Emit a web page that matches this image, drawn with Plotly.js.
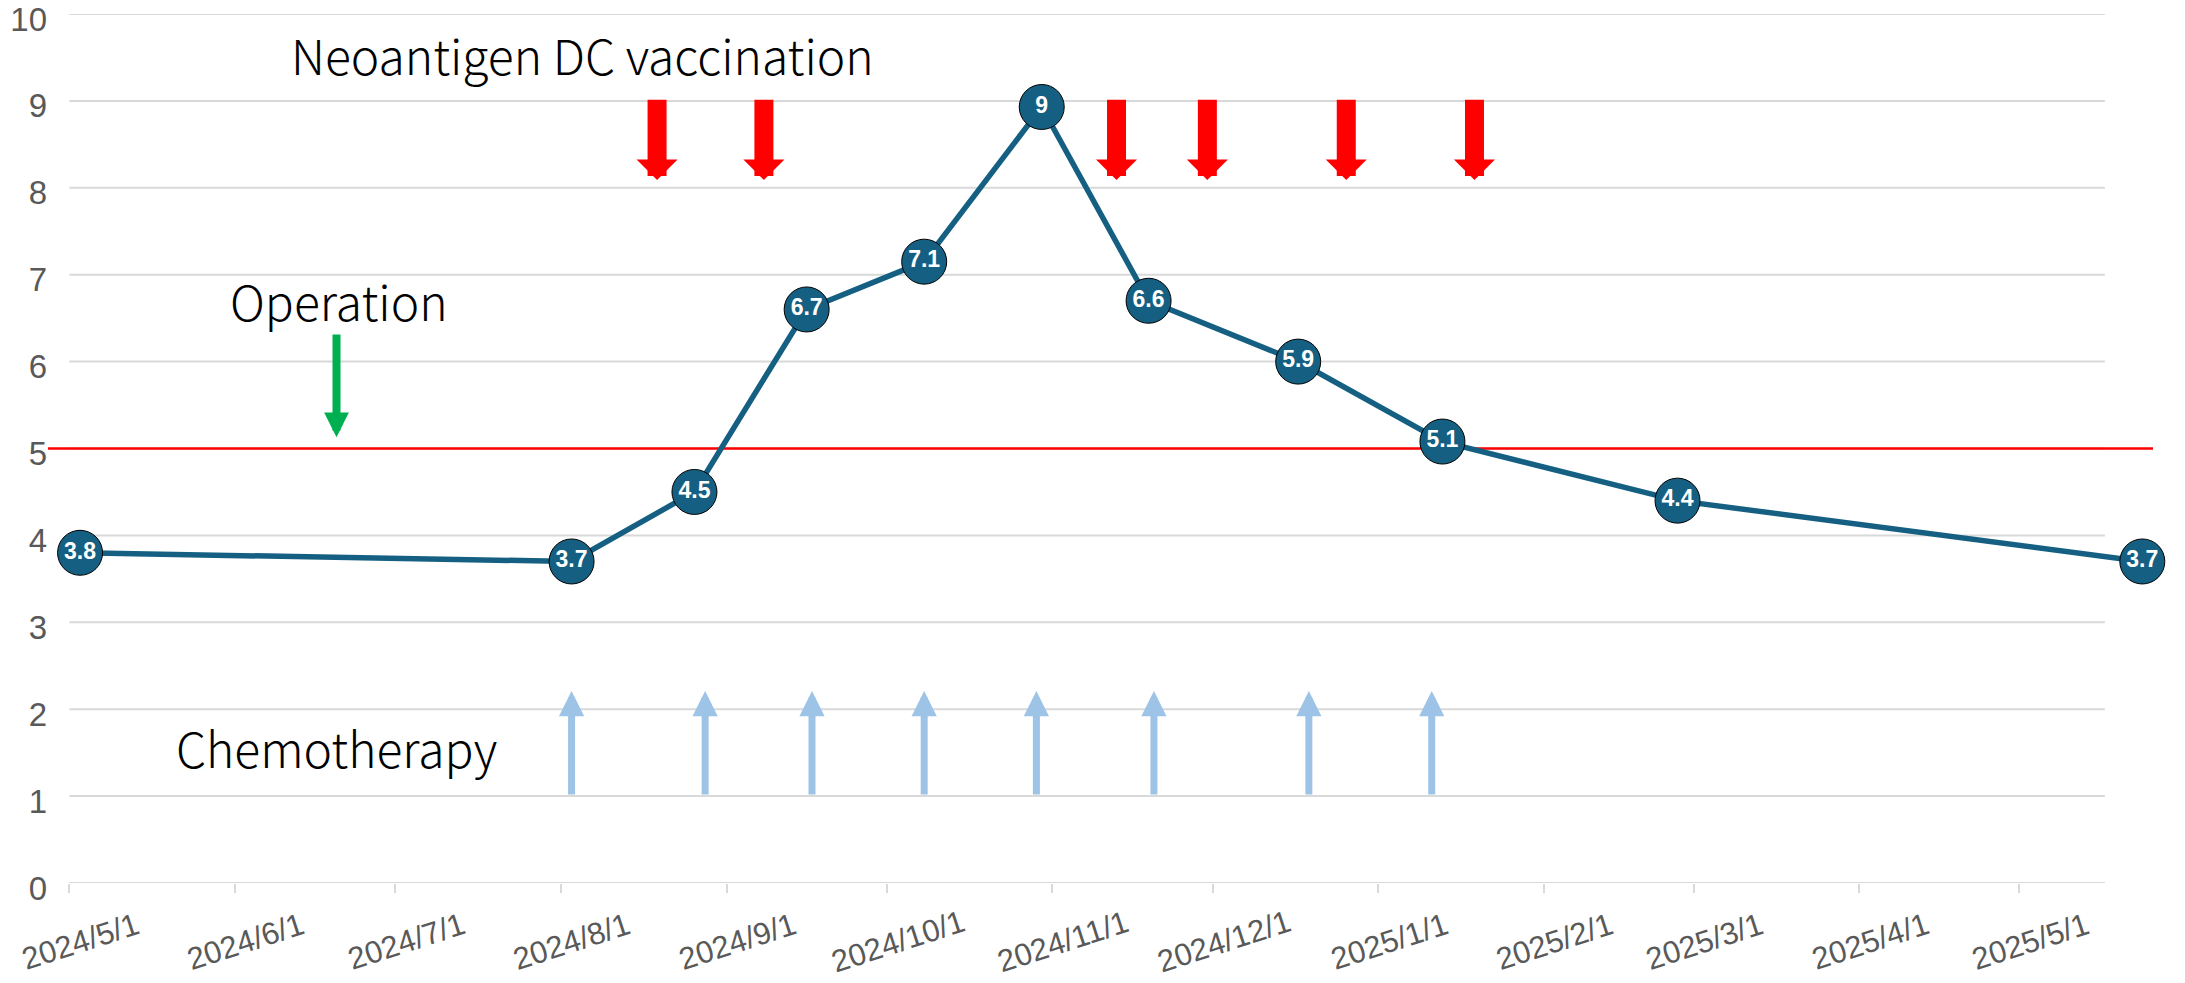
<!DOCTYPE html>
<html>
<head>
<meta charset="utf-8">
<script src="https://cdn.plot.ly/plotly-3.0.1.min.js"></script>
<style>
  html, body { margin: 0; padding: 0; background: #fff; }
  #chart { width: 2185px; height: 983px; }
</style>
</head>
<body>
<div id="chart"></div>
<script>
// Blood test results: where each bubble sits, and the text printed inside it
const testDates = ['2024-05-03', '2024-08-03', '2024-08-26', '2024-09-16', '2024-10-08', '2024-10-30',
                   '2024-11-19', '2024-12-17', '2025-01-13', '2025-02-26', '2025-05-24'];
const testValues = [3.8, 3.7, 4.5, 6.6, 7.15, 8.93, 6.7, 6.0, 5.08, 4.4, 3.7];
const testLabels = ['3.8', '3.7', '4.5', '6.7', '7.1', '9', '6.6', '5.9', '5.1', '4.4', '3.7'];

// Treatment events
const vaccinationDates = ['2024-08-19', '2024-09-08', '2024-11-13', '2024-11-30', '2024-12-26', '2025-01-19'];
const chemoDates = ['2024-08-03', '2024-08-28', '2024-09-17', '2024-10-08', '2024-10-29',
                    '2024-11-20', '2024-12-19', '2025-01-11'];
const operationDate = '2024-06-20';

// Reference level (red line)
const cutoffValue = 5;

// Axis ticks
const monthTicks = ['2024-05-01', '2024-06-01', '2024-07-01', '2024-08-01', '2024-09-01', '2024-10-01',
                    '2024-11-01', '2024-12-01', '2025-01-01', '2025-02-01', '2025-03-01', '2025-04-01', '2025-05-01'];
const monthLabels = ['2024/5/1', '2024/6/1', '2024/7/1', '2024/8/1', '2024/9/1', '2024/10/1',
                     '2024/11/1', '2024/12/1', '2025/1/1', '2025/2/1', '2025/3/1', '2025/4/1', '2025/5/1'];
const yTicks = [0, 1, 2, 3, 4, 5, 6, 7, 8, 9, 10];

const xRange = ['2024-04-27', '2025-05-26'];

const colors = {
  line: '#156082',
  grid: '#D9D9D9',
  tick: '#595959',
  vaccine: '#FF0000',
  chemo: '#9DC3E6',
  operation: '#00B050',
  cutoff: '#FF0000'
};

const tickFont = { family: '"Liberation Sans", Arial, sans-serif', size: 33, color: colors.tick };
const dateFont = { family: '"Liberation Sans", Arial, sans-serif', size: 31, color: colors.tick };
const labelFont = { family: '"Noto Sans CJK JP", "Noto Sans", sans-serif', size: 48, color: '#000000', weight: 300 };

// arrow drawn as an annotation from (date, from) to (date, to)
function arrow(date, from, to, color, width, size, head) {
  return {
    x: date, y: to, ax: date, ay: from,
    xref: 'x', yref: 'y', axref: 'x', ayref: 'y',
    text: '', showarrow: true, standoff: 0,
    arrowhead: head, arrowsize: size, arrowwidth: width, arrowcolor: color
  };
}

function textLabel(text, date, y) {
  return { text: text, x: date, y: y, xref: 'x', yref: 'y', showarrow: false,
           xanchor: 'center', yanchor: 'middle', font: labelFont };
}

// Excel centres its slanted date labels on the tick, so they are placed as annotations
function dateLabel(date, text) {
  return { text: text, x: date, y: 0, xref: 'x', yref: 'paper', showarrow: false,
           xanchor: 'center', yanchor: 'middle', xshift: 11, yshift: -58,
           textangle: -18, font: dateFont };
}

function renderChart(elementId) {
  const trace = {
    type: 'scatter',
    mode: 'lines+markers+text',
    x: testDates,
    y: testValues,
    text: testLabels,
    textposition: 'middle center',
    textfont: { family: '"Liberation Sans", Arial, sans-serif', size: 23, color: '#ffffff', weight: 'bold' },
    line: { color: colors.line, width: 5.5 },
    marker: { size: 45, color: colors.line, line: { color: '#000000', width: 1 } },
    cliponaxis: false,
    hoverinfo: 'skip'
  };

  // horizontal gridlines (Excel style, stop short of the plot edges)
  const gridShapes = yTicks.map(v => ({
    type: 'line', xref: 'x', yref: 'y', layer: 'below',
    x0: monthTicks[0], x1: '2025-05-17', y0: v, y1: v,
    line: { color: colors.grid, width: 2 }
  }));

  // red reference line, drawn after the gridlines so it sits on top of them
  const cutoffShape = {
    type: 'line', xref: 'x', yref: 'y', layer: 'below',
    x0: xRange[0], x1: xRange[1], y0: cutoffValue, y1: cutoffValue,
    line: { color: colors.cutoff, width: 2.5 }
  };

  const annotations = [
    ...vaccinationDates.map(d => arrow(d, 9.03, 8.09, colors.vaccine, 19, 0.36, 1)),
    ...chemoDates.map(d => arrow(d, 1, 2.21, colors.chemo, 7, 0.72, 2)),
    arrow(operationDate, 6.33, 5.13, colors.operation, 8, 0.62, 2),
    textLabel('Neoantigen DC vaccination', '2024-08-05', 9.54),
    textLabel('Operation', '2024-06-20 12:00', 6.71),
    textLabel('Chemotherapy', '2024-06-20', 1.56),
    ...monthTicks.map((d, i) => dateLabel(d, monthLabels[i]))
  ];

  const layout = {
    width: 2185,
    height: 983,
    margin: { l: 48, r: 32, t: 14, b: 100 },
    paper_bgcolor: '#ffffff',
    plot_bgcolor: 'rgba(0,0,0,0)',
    showlegend: false,
    font: tickFont,
    xaxis: {
      type: 'date',
      range: xRange,
      tickmode: 'array',
      tickvals: monthTicks,
      showticklabels: false,
      ticks: 'outside',
      ticklen: 9,
      tickwidth: 2,
      tickcolor: colors.grid,
      showgrid: false,
      zeroline: false,
      showline: false
    },
    yaxis: {
      range: [0, 10],
      tickmode: 'array',
      tickvals: yTicks,
      ticks: '',
      ticklabelshift: 5,
      ticklabeloverflow: 'allow',
      showgrid: false,
      zeroline: false,
      showline: false
    },
    shapes: [...gridShapes, cutoffShape],
    annotations: annotations
  };

  Plotly.newPlot(elementId, [trace], layout, { displayModeBar: false, staticPlot: true });
}

renderChart('chart');
</script>
</body>
</html>
